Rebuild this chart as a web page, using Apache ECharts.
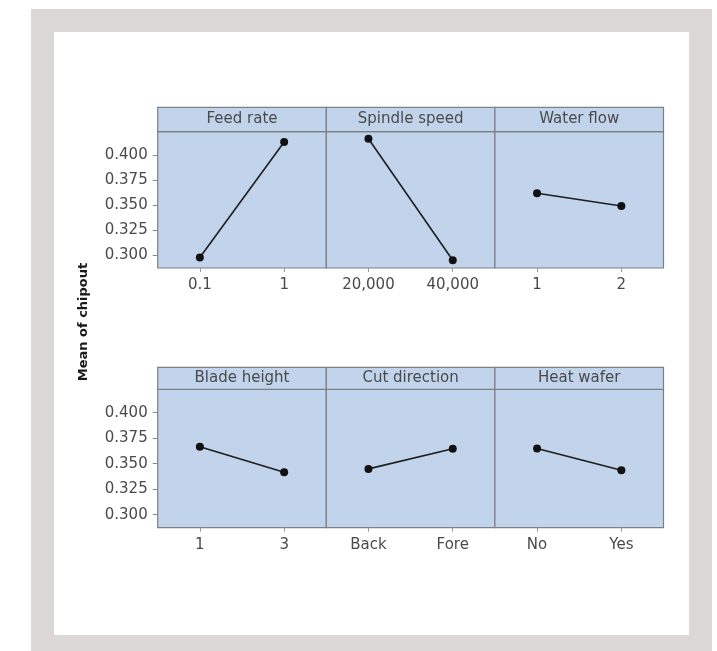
<!DOCTYPE html>
<html>
<head>
<meta charset="utf-8">
<script src="https://cdn.jsdelivr.net/npm/echarts@6/dist/echarts.min.js"></script>
<style>
  html, body { margin: 0; padding: 0; background: #ffffff; }
  #frame { position: absolute; left: 31px; top: 9px; width: 681px; height: 642px; background: #dcd8d5; }
  #inner { position: absolute; left: 54px; top: 32px; width: 635px; height: 603px; background: #ffffff; }
  #chart { position: absolute; left: 0; top: 0; width: 717px; height: 651px; }
</style>
</head>
<body>
<div id="frame"></div>
<div id="inner"></div>
<div id="chart"></div>
<script>
// ---- data ----
const panelNames = ['Feed rate', 'Spindle speed', 'Water flow', 'Blade height', 'Cut direction', 'Heat wafer'];
const feedRateLevels = ['0.1', '1'];
const spindleLevels = ['20,000', '40,000'];
const waterFlowLevels = ['1', '2'];
const bladeHeightLevels = ['1', '3'];
const cutDirectionLevels = ['Back', 'Fore'];
const heatWaferLevels = ['No', 'Yes'];
const feedRateMeans = [0.2977, 0.4127];
const spindleMeans = [0.4160, 0.2950];
const waterFlowMeans = [0.3617, 0.3490];
const bladeHeightMeans = [0.3666, 0.3416];
const cutDirectionMeans = [0.3449, 0.3646];
const heatWaferMeans = [0.3649, 0.3436];
const yTicks = [0.300, 0.325, 0.350, 0.375, 0.400];
const yAxisTitle = 'Mean of chipout';

const levels = [feedRateLevels, spindleLevels, waterFlowLevels, bladeHeightLevels, cutDirectionLevels, heatWaferLevels];
const means = [feedRateMeans, spindleMeans, waterFlowMeans, bladeHeightMeans, cutDirectionMeans, heatWaferMeans];

// ---- layout ----
const colLeft = 157.7, colW = 168.6;
const rows = [
  { headTop: 107.3, gridTop: 131.7, gridBottom: 268 },
  { headTop: 367.3, gridTop: 389.3, gridBottom: 527.7 }
];
const yMin = 0.2872, yMax = 0.4230;
const FONT = 'DejaVu Sans';
const panelFill = '#c2d4eb';
const borderCol = '#7d7f83';
const textCol = '#4a4a4a';

const grids = [], xAxes = [], yAxes = [], series = [], graphics = [];
for (let i = 0; i < 6; i++) {
  const r = rows[Math.floor(i / 3)];
  const c = i % 3;
  const left = colLeft + c * colW;
  grids.push({
    left: left, top: r.gridTop, width: colW, height: r.gridBottom - r.gridTop,
    show: true, backgroundColor: panelFill, borderColor: borderCol, borderWidth: 1.2,
    containLabel: false
  });
  xAxes.push({
    gridIndex: i, type: 'category', data: levels[i], boundaryGap: true,
    axisLine: { show: false },
    axisTick: { show: true, alignWithLabel: true, length: 4, lineStyle: { color: '#9a9a9a', width: 1 } },
    axisLabel: { color: textCol, fontFamily: FONT, fontSize: 15, margin: 10 },
    splitLine: { show: false }
  });
  const showY = c === 0;
  yAxes.push({
    gridIndex: i, type: 'value', min: yMin, max: yMax,
    axisLine: { show: false },
    axisTick: { show: showY, customValues: yTicks, length: 5, lineStyle: { color: '#8a8a8a', width: 1 } },
    axisLabel: { show: showY, customValues: yTicks, color: textCol, fontFamily: FONT, fontSize: 15, margin: 10,
      formatter: v => Number(v).toFixed(3) },
    splitLine: { show: false }
  });
  series.push({
    type: 'line', xAxisIndex: i, yAxisIndex: i, data: means[i],
    symbol: 'circle', symbolSize: 8,
    lineStyle: { color: '#1e1e1e', width: 1.6 },
    itemStyle: { color: '#111111' },
    silent: true
  });
  graphics.push({
    type: 'rect', shape: { x: left, y: r.headTop, width: colW, height: r.gridTop - r.headTop },
    style: { fill: panelFill, stroke: borderCol, lineWidth: 1.2 }, z: 10
  });
  graphics.push({
    type: 'text', x: left + colW / 2, y: (r.headTop + r.gridTop) / 2,
    style: { text: panelNames[i], fill: textCol, fontFamily: FONT, fontSize: 15, align: 'center', verticalAlign: 'middle' },
    z: 11
  });
}
graphics.push({
  type: 'text', x: 84, y: 322, rotation: Math.PI / 2,
  style: { text: yAxisTitle, fill: '#1a1a1a', fontFamily: FONT, fontSize: 13, fontWeight: 'bold', align: 'center', verticalAlign: 'middle' },
  z: 11
});

const chart = echarts.init(document.getElementById('chart'), null, { renderer: 'canvas' });
chart.setOption({
  animation: false,
  backgroundColor: 'transparent',
  grid: grids, xAxis: xAxes, yAxis: yAxes, series: series, graphic: graphics
});
</script>
</body>
</html>
